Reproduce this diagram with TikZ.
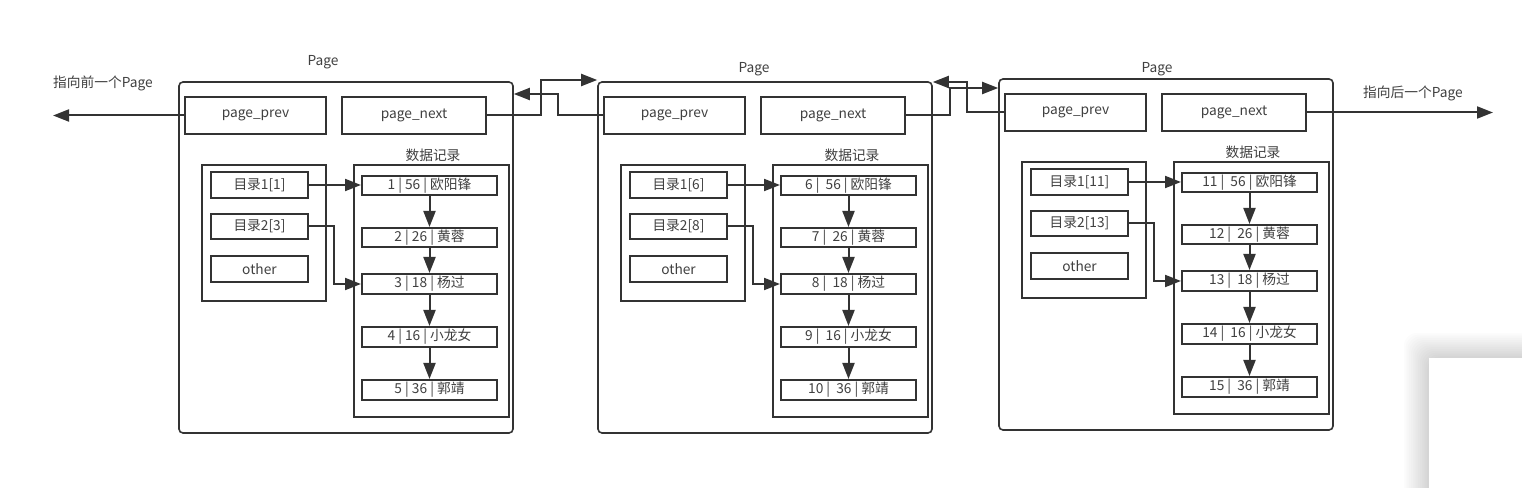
\documentclass[tikz,border=0pt]{standalone}
\usepackage{fontspec}
\setmainfont{Noto Sans CJK SC}
\usetikzlibrary{arrows.meta,fit}
\definecolor{ln}{HTML}{333333}
\definecolor{tx}{HTML}{404040}
\tikzset{
  txt/.style={text=tx, font=\fontsize{10.3pt}{12pt}\selectfont},
  box/.style={draw=ln, line width=1.5pt, rectangle, inner sep=0pt},
  outerbox/.style={draw=ln, line width=1.2pt, rounded corners=3pt, inner sep=0pt},
  grpbox/.style={draw=ln, line width=1.5pt, inner sep=0pt},
  lbl/.style={txt, inner sep=0pt},
  arr/.style={draw=ln, line width=1.5pt, -{Triangle[length=12pt,width=9pt]}},
}
% #1 prefix, #2 dir1, #3 dir2, #4..#8 records ; offsets in \dx, \dy
\newcommand\pagegroup[8]{%
  \node[outerbox, fit={(179+\dx,82+\dy) (513+\dx,433+\dy)}] (#1) {};
  \node[box, fit={(185+\dx,97+\dy) (326+\dx,134+\dy)}] (#1prev) {};
  \node[lbl] (#1prevt) at (#1prev.center) {page\_prev};
  \node[box, fit={(342+\dx,97+\dy) (486+\dx,134+\dy)}] (#1next) {};
  \node[lbl] (#1nextt) at (#1next.center) {page\_next};
  \node[grpbox, fit={(202+\dx,165+\dy) (326+\dx,301+\dy)}] (#1dir) {};
  \node[box, fit={(211+\dx,172+\dy) (308+\dx,198+\dy)}] (#1da) {};
  \node[lbl] (#1dat) at (#1da.center) {#2};
  \node[box, fit={(211+\dx,214+\dy) (308+\dx,239+\dy)}] (#1db) {};
  \node[lbl] (#1dbt) at (#1db.center) {#3};
  \node[box, fit={(211+\dx,256+\dy) (308+\dx,282+\dy)}] (#1dc) {};
  \node[lbl] (#1dct) at (#1dc.center) {other};
  \node[grpbox, fit={(354+\dx,165+\dy) (509+\dx,417+\dy)}] (#1data) {};
  \node[lbl] (#1dl) at (433+\dx,155+\dy) {数据记录};
  \node[box, fit={(362+\dx,176+\dy) (497+\dx,195+\dy)}] (#1ra) {};
  \node[lbl] (#1rat) at (#1ra.center) {#4};
  \node[box, fit={(362+\dx,228+\dy) (497+\dx,247+\dy)}] (#1rb) {};
  \node[lbl] (#1rbt) at (#1rb.center) {#5};
  \node[box, fit={(362+\dx,274+\dy) (497+\dx,294+\dy)}] (#1rc) {};
  \node[lbl] (#1rct) at (#1rc.center) {#6};
  \node[box, fit={(362+\dx,327+\dy) (497+\dx,347+\dy)}] (#1rd) {};
  \node[lbl] (#1rdt) at (#1rd.center) {#7};
  \node[box, fit={(362+\dx,380+\dy) (497+\dx,400+\dy)}] (#1re) {};
  \node[lbl] (#1ret) at (#1re.center) {#8};
  \coordinate (#1k) at (334+\dx,284+\dy);
  \draw[arr] (#1da.east) -- (#1da.east -| #1ra.west);
  \draw[arr] (#1db.east) -| (#1k) -- (#1rc.west);
  \draw[arr] (#1ra) -- (#1rb);
  \draw[arr] (#1rb) -- (#1rc);
  \draw[arr] (#1rc) -- (#1rd);
  \draw[arr] (#1rd) -- (#1re);
}
\begin{document}
\begin{tikzpicture}[x=0.75pt,y=-0.75pt]
  \useasboundingbox (0,0) rectangle (1522,488);
  \fill[white] (0,0) rectangle (1522,488);
  % shadowed panel at bottom right
  \foreach \i in {1,...,14} {
    \fill[black, opacity=0.012, rounded corners=10pt] ({1429-1.8*\i},{358-1.8*\i}) rectangle (1560,520);
  }
  \fill[white] (1429,358) rectangle (1560,520);

  \def\dx{0}\def\dy{0}
  \pagegroup{p}{目录1[1]}{目录2[3]}{1 | 56 | 欧阳锋}{2 | 26 | 黄蓉}{3 | 18 | 杨过}{4 | 16 | 小龙女}{5 | 36 | 郭靖}
  \def\dx{419}\def\dy{0}
  \pagegroup{q}{目录1[6]}{目录2[8]}{6 |\ \ 56 | 欧阳锋}{7 |\ \ 26 | 黄蓉}{8 |\ \ 18 | 杨过}{9 |\ \ 16 | 小龙女}{10 |\ \ 36 | 郭靖}
  \def\dx{820}\def\dy{-3}
  \pagegroup{r}{目录1[11]}{目录2[13]}{11 |\ \ 56 | 欧阳锋}{12 |\ \ 26 | 黄蓉}{13 |\ \ 18 | 杨过}{14 |\ \ 16 | 小龙女}{15 |\ \ 36 | 郭靖}

  \node[lbl] (t1) at (323,62) {Page};
  \node[lbl] (t2) at (754,69) {Page};
  \node[lbl] (t3) at (1157,69) {Page};
  \node[lbl] (lpl) at (103,83) {指向前一个Page};
  \node[lbl] (lnl) at (1413,93) {指向后一个Page};

  \coordinate (lend) at (53,115.5);
  \coordinate (rend) at (1493,112.5);
  \draw[arr] (pprev.west) -- (lend);
  \draw[arr] (rnext.east) -- (rend);

  \coordinate (ja) at (541,80);
  \coordinate (jb) at (558,94);
  \coordinate (jc) at (967,82);
  \coordinate (jd) at (950,88);
  \draw[arr] (pnext.east) -| (ja) -- (ja -| q.west);
  \draw[arr] (qprev.west) -| (jb) -- (jb -| p.east);
  \draw[arr] (rprev.west) -| (jc) -- (jc -| q.east);
  \draw[arr] (qnext.east) -| (jd) -- (jd -| r.west);
\end{tikzpicture}
\end{document}
